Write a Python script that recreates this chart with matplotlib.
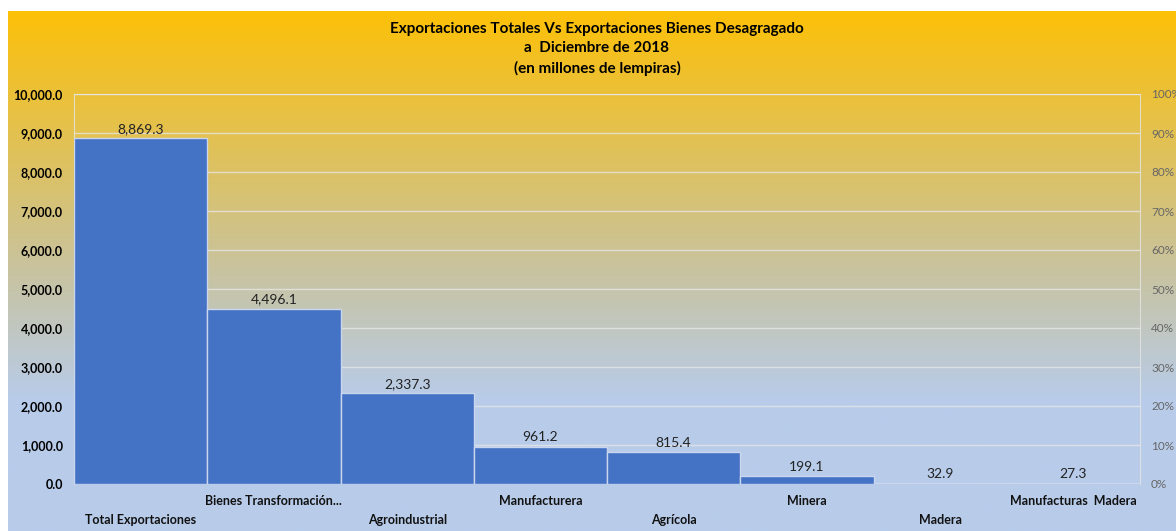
import numpy as np
import matplotlib.pyplot as plt
from matplotlib.ticker import FuncFormatter

# datos del grafico
categorias = ['Total Exportaciones', 'Bienes Transformación...', 'Agroindustrial',
              'Manufacturera', 'Agrícola', 'Minera', 'Madera', 'Manufacturas  Madera']
valores = [8869.3, 4496.1, 2337.3, 961.2, 815.4, 199.1, 32.9, 27.3]
ticks_izq = [0, 1000, 2000, 3000, 4000, 5000, 6000, 7000, 8000, 9000, 10000]
ticks_der = [0, 10, 20, 30, 40, 50, 60, 70, 80, 90, 100]

plt.rcParams['font.family'] = ['Lato', 'DejaVu Sans']

W, H = 1176, 531
fig = plt.figure(figsize=(W / 100, H / 100), dpi=100)

# fondo degradado naranja -> azul
bg = fig.add_axes([8 / W, 0, 1 - 8 / W, 1 - 11 / H])
top = np.array([252, 192, 8]) / 255
mid = np.array([200, 195, 160]) / 255
bot = np.array([184, 204, 234]) / 255
t = np.linspace(0, 1, 256)[:, None]
grad = np.where(t < 0.5, top + (mid - top) * (t / 0.5), mid + (bot - mid) * ((t - 0.5) / 0.25))
grad = np.where(t > 0.75, bot, grad)
bg.imshow(grad[:, None, :].repeat(2, axis=1), aspect='auto', extent=[0, 1, 0, 1])
bg.axis('off')

# area de trazado
x0, x1 = 74, 1140
y0, y1 = 484, 94
ax = fig.add_axes([x0 / W, 1 - y0 / H, (x1 - x0) / W, (y0 - y1) / H])
ax.patch.set_alpha(0)
pos = np.arange(len(categorias))
ax.bar(pos, valores, width=1.0, color='#4472C4', edgecolor='#C9D6EE', linewidth=1, zorder=3)
ax.set_xlim(-0.5, len(categorias) - 0.5)
ax.set_ylim(0, 10000)
ax.set_yticks(ticks_izq)
ax.yaxis.set_major_formatter(FuncFormatter(lambda v, p: f'{v:,.1f}'))
for lab in ax.get_yticklabels():
    lab.set_fontweight('bold')
ax.tick_params(axis='y', length=0, labelsize=9, pad=8)
ax.set_xticks([])
ax.grid(axis='y', color='#E6E6E6', linewidth=1, alpha=0.8, zorder=0)
for s in ax.spines.values():
    s.set_color('#E6E6E6')
    s.set_alpha(0.8)
ax.spines['bottom'].set_visible(False)

for i, v in enumerate(valores):
    ax.text(i, v + 80, f'{v:,.1f}', ha='center', va='bottom', fontsize=10, color='#222222')

# etiquetas de categoria en dos filas
for i, c in enumerate(categorias):
    yy = -0.044 if i % 2 else -0.093
    ax.text(i, yy, c, transform=ax.get_xaxis_transform(), ha='center', va='center',
            fontsize=9, fontweight='bold', color='#111111')

# eje secundario en porcentaje
ax2 = ax.twinx()
ax2.set_ylim(0, 100)
ax2.set_yticks(ticks_der)
ax2.set_yticklabels([f'{v}%' for v in ticks_der])
ax2.tick_params(axis='y', length=0, labelsize=8.5, labelcolor='#666666', pad=8)
for s in ax2.spines.values():
    s.set_visible(False)

fig.text(597 / W, 1 - 29 / H, 'Exportaciones Totales Vs Exportaciones Bienes Desagragado',
         ha='center', va='center', fontsize=11, fontweight='bold')
fig.text(597 / W, 1 - 48 / H, 'a  Diciembre de 2018',
         ha='center', va='center', fontsize=11, fontweight='bold')
fig.text(597 / W, 1 - 68 / H, '(en millones de lempiras)',
         ha='center', va='center', fontsize=11, fontweight='bold')

fig.savefig('out.png', dpi=100)
